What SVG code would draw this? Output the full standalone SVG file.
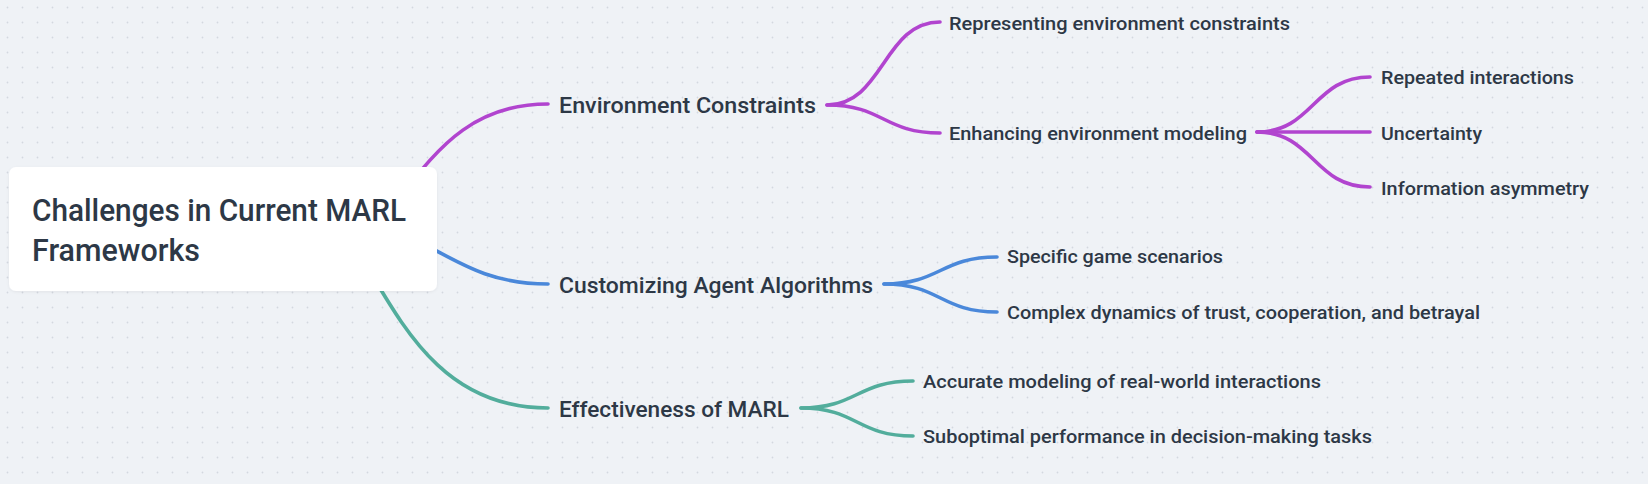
<svg xmlns="http://www.w3.org/2000/svg" width="1648" height="484" viewBox="0 0 1648 484">
  <defs>
    <pattern id="dots" x="0" y="0" width="15" height="15" patternUnits="userSpaceOnUse">
      <circle cx="7.5" cy="7.5" r="0.9" fill="#d3d8df"/>
    </pattern>
    <filter id="shadow" x="-5%" y="-10%" width="110%" height="125%">
      <feDropShadow dx="0" dy="1" stdDeviation="1.5" flood-color="#000000" flood-opacity="0.06"/>
    </filter>
    <style>
      .edge { fill: none; stroke-width: 3.6; stroke-linecap: round; }
      .purple { stroke: #b144cf; }
      .blue { stroke: #4a88da; }
      .teal { stroke: #52ad9c; }
      .t { font-family: Roboto, "Liberation Sans", sans-serif; font-weight: 500; fill: #2d3846; }
      .root { font-size: 31px; }
      .l1 { font-size: 22px; }
      .l2 { font-size: 19px; }
    </style>
  </defs>
  <rect width="1648" height="484" fill="#eff2f6"/>
  <rect width="1648" height="484" fill="url(#dots)"/>

  <g id="connectors">
    <path class="edge purple" d="M 395 205 C 440 140, 480 104, 548 104"/>
    <path class="edge blue" d="M 400 232 C 450 255, 480 284, 548 284"/>
    <path class="edge teal" d="M 360 255 C 400 320, 440 408, 548 408"/>

    <path class="edge purple" d="M 827 105 C 883.5 105, 883.5 22, 940 22"/>
    <path class="edge purple" d="M 827 105 C 883.5 105, 883.5 133, 940 133"/>

    <path class="edge purple" d="M 1257 132 C 1313.5 132, 1313.5 77, 1370 77"/>
    <path class="edge purple" d="M 1257 132 L 1370 132"/>
    <path class="edge purple" d="M 1257 132 C 1313.5 132, 1313.5 187, 1370 187"/>

    <path class="edge blue" d="M 884 284 C 940.5 284, 940.5 257, 997 257"/>
    <path class="edge blue" d="M 884 284 C 940.5 284, 940.5 312, 997 312"/>

    <path class="edge teal" d="M 801 408 C 857 408, 857 381, 913 381"/>
    <path class="edge teal" d="M 801 408 C 857 408, 857 436, 913 436"/>
  </g>

  <g id="root">
    <rect x="9" y="167" width="428" height="124" rx="7" fill="#ffffff" filter="url(#shadow)"/>
    <text class="t root" x="32" y="221" textLength="374" lengthAdjust="spacingAndGlyphs">Challenges in Current MARL</text>
    <text class="t root" x="32" y="261" textLength="168" lengthAdjust="spacingAndGlyphs">Frameworks</text>
  </g>

  <g id="env-constraints">
    <text class="t l1" x="559" y="113" textLength="257" lengthAdjust="spacingAndGlyphs">Environment Constraints</text>
  </g>
  <g id="customizing">
    <text class="t l1" x="559" y="293" textLength="314" lengthAdjust="spacingAndGlyphs">Customizing Agent Algorithms</text>
  </g>
  <g id="effectiveness">
    <text class="t l1" x="559" y="417" textLength="230" lengthAdjust="spacingAndGlyphs">Effectiveness of MARL</text>
  </g>

  <g id="representing">
    <text class="t l2" x="949" y="30" textLength="341" lengthAdjust="spacingAndGlyphs">Representing environment constraints</text>
  </g>
  <g id="enhancing">
    <text class="t l2" x="949" y="140" textLength="298" lengthAdjust="spacingAndGlyphs">Enhancing environment modeling</text>
  </g>
  <g id="repeated">
    <text class="t l2" x="1381" y="84" textLength="193" lengthAdjust="spacingAndGlyphs">Repeated interactions</text>
  </g>
  <g id="uncertainty">
    <text class="t l2" x="1381" y="140" textLength="101" lengthAdjust="spacingAndGlyphs">Uncertainty</text>
  </g>
  <g id="information">
    <text class="t l2" x="1381" y="195" textLength="208" lengthAdjust="spacingAndGlyphs">Information asymmetry</text>
  </g>
  <g id="specific">
    <text class="t l2" x="1007" y="263" textLength="216" lengthAdjust="spacingAndGlyphs">Specific game scenarios</text>
  </g>
  <g id="complex">
    <text class="t l2" x="1007" y="319" textLength="473" lengthAdjust="spacingAndGlyphs">Complex dynamics of trust, cooperation, and betrayal</text>
  </g>
  <g id="accurate">
    <text class="t l2" x="923" y="388" textLength="398" lengthAdjust="spacingAndGlyphs">Accurate modeling of real-world interactions</text>
  </g>
  <g id="suboptimal">
    <text class="t l2" x="923" y="443" textLength="449" lengthAdjust="spacingAndGlyphs">Suboptimal performance in decision-making tasks</text>
  </g>
</svg>
